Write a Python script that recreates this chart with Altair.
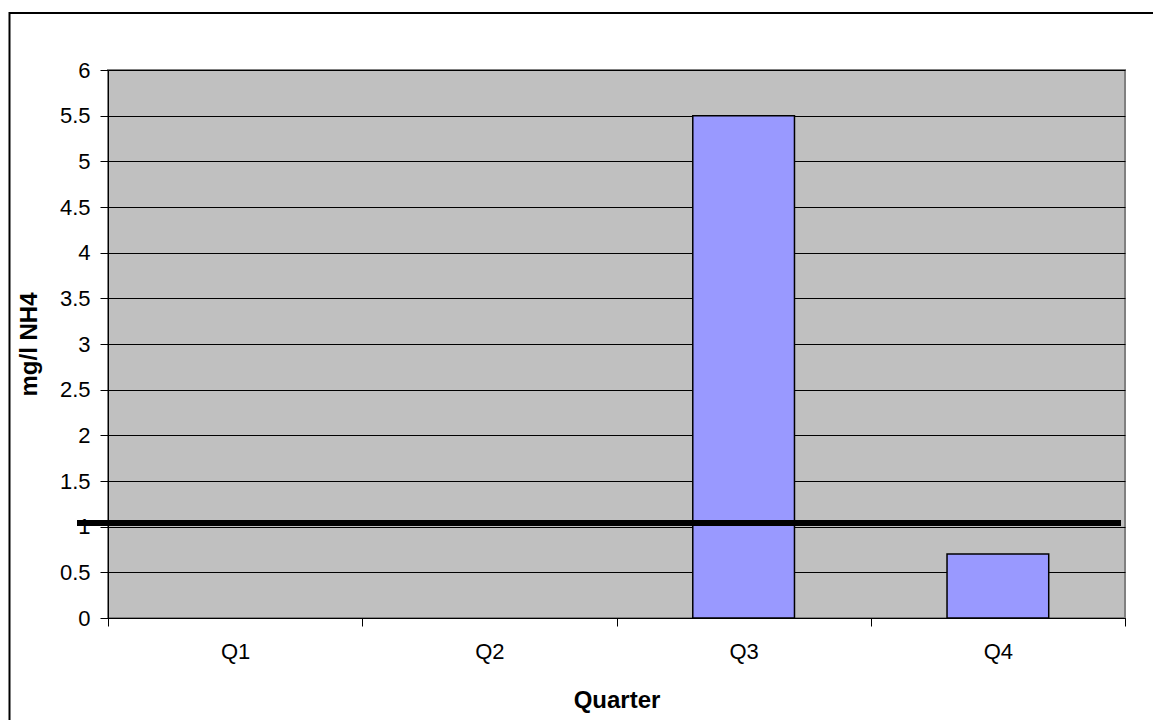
import altair as alt
import pandas as pd

# Quarterly ammonium readings (Q1 and Q2 have no measurement)
quarters = ["Q1", "Q2", "Q3", "Q4"]
nh4_values = [None, None, 5.5, 0.7]

# Limit value drawn as a heavy horizontal line
limit_value = [1.04]

# Y axis tick values
y_ticks = [0, 0.5, 1, 1.5, 2, 2.5, 3, 3.5, 4, 4.5, 5, 5.5, 6]

bars_df = pd.DataFrame({"quarter": quarters, "nh4": nh4_values})
limit_df = pd.DataFrame({"limit": limit_value})
frame_df = pd.DataFrame({"frame": [0]})

FONT = "Liberation Sans"

x_enc = alt.X(
    "quarter:N",
    sort=quarters,
    scale=alt.Scale(domain=quarters, paddingInner=0, paddingOuter=0),
    axis=alt.Axis(
        title="Quarter",
        labelAngle=0,
        tickBand="extent",
        grid=False,
        titleY=89,
        titleBaseline="alphabetic",
    ),
)

y_enc = alt.Y(
    "nh4:Q",
    scale=alt.Scale(domain=[0, 6], nice=False, zero=True),
    axis=alt.Axis(
        title="mg/l NH4",
        values=y_ticks,
        format="~g",
        grid=True,
        titleX=-79,
        titleY=274,
        titleBaseline="middle",
    ),
)

bars = alt.Chart(bars_df).mark_bar(
    color="#9999FF",
    stroke="black",
    strokeWidth=1.5,
    width=alt.RelativeBandSize(0.4),
).encode(x=x_enc, y=y_enc)

limit_line = alt.Chart(limit_df).mark_rule(
    color="black", strokeWidth=6
).encode(
    y=alt.Y("limit:Q"),
    x=alt.value(-31),
    x2=alt.value(1013),
)

# Outer chart frame
frame = alt.Chart(frame_df).mark_rect(
    fill=None, stroke="black", strokeWidth=2
).encode(
    x=alt.value(-98.5),
    x2=alt.value(1200),
    y=alt.value(-57),
    y2=alt.value(900),
)

chart = (
    alt.layer(frame, bars, limit_line)
    .properties(
        width=1017,
        height=548,
        autosize=alt.AutoSizeParams(type="none"),
        padding={"left": 108, "top": 70, "right": 28, "bottom": 102},
        background="white",
    )
    .configure_view(fill="#C0C0C0", stroke="#808080", strokeWidth=2)
    .configure_axis(
        labelFont=FONT,
        labelFontSize=22,
        labelColor="black",
        titleFont=FONT,
        titleFontSize=24,
        titleFontWeight="bold",
        titleColor="black",
        domainColor="black",
        domainWidth=1,
        tickColor="black",
        tickSize=8,
        tickWidth=1,
        gridColor="black",
        gridWidth=1,
        gridOpacity=1,
    )
    .configure_axisY(labelPadding=10)
    .configure_axisX(labelPadding=15)
)

chart.save("out.html", embed_options={"renderer": "svg", "actions": False})
